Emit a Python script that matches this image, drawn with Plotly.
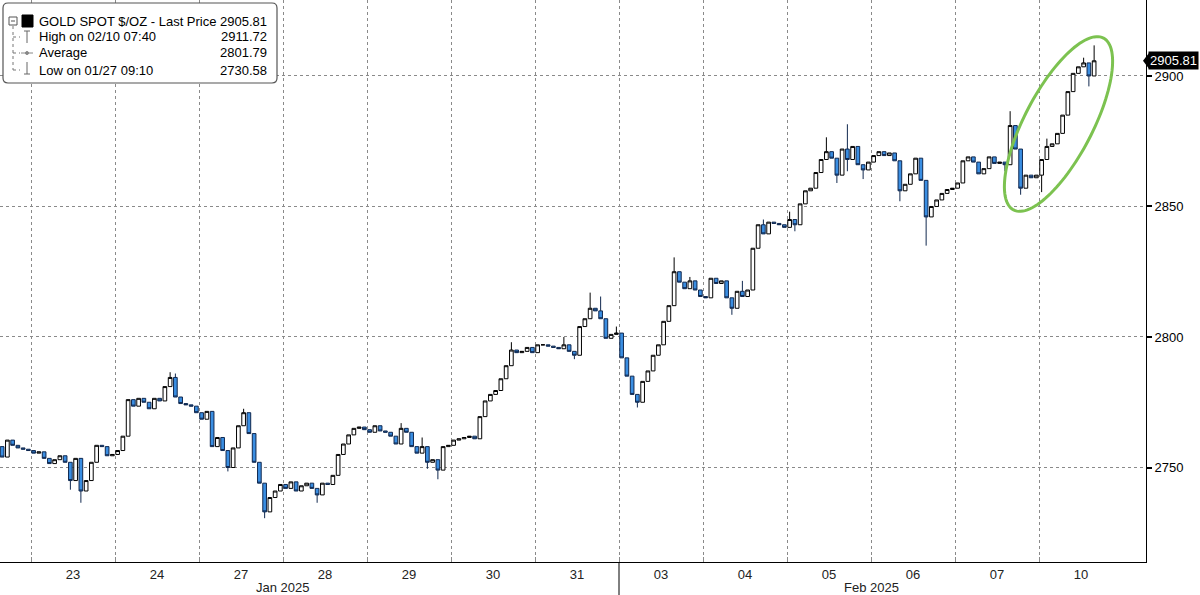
import math
import plotly.graph_objects as go

# ---------------- data ----------------
day_labels = ["23", "24", "27", "28", "29", "30", "31", "03", "04", "05", "06", "07", "10"]
month_labels = ["Jan 2025", "Feb 2025"]
month_label_pos = [3.0, 10.0]          # day-boundary index where the month label sits
month_break_pos = 7.0                  # boundary between 31 Jan and 03 Feb
y_ticks = [2750, 2800, 2850, 2900]

first_open = 2758.0
closes_jan22 = [2754.0, 2760.5, 2758.5, 2757.5, 2757.0, 2756.5]
closes_jan23 = [2755.5, 2756.0, 2753.5, 2751.5, 2753.0, 2754.5, 2752.0, 2745.0,
                2753.5, 2741.0, 2745.0, 2752.0, 2758.5, 2758.0, 2754.5, 2755.0]
closes_jan24 = [2756.5, 2762.0, 2776.0, 2773.5, 2776.5, 2775.0, 2772.5, 2776.5,
                2775.5, 2781.0, 2784.5, 2777.0, 2774.5, 2774.0, 2773.5, 2771.0]
closes_jan27 = [2768.5, 2771.5, 2758.0, 2761.5, 2756.5, 2750.0, 2757.5, 2766.0,
                2771.0, 2763.0, 2752.0, 2744.0, 2733.0, 2738.5, 2741.0, 2743.5]
closes_jan28 = [2742.0, 2744.5, 2741.0, 2743.0, 2744.0, 2742.0, 2739.5, 2744.0,
                2743.5, 2747.0, 2755.0, 2759.0, 2762.5, 2765.0, 2765.5, 2764.5]
closes_jan29 = [2763.5, 2766.0, 2764.0, 2763.5, 2762.0, 2759.0, 2765.0, 2763.5,
                2758.0, 2755.5, 2758.0, 2752.0, 2753.0, 2749.0, 2758.0, 2758.5]
closes_jan30 = [2760.5, 2761.0, 2761.5, 2762.0, 2761.0, 2769.5, 2775.5, 2778.0,
                2779.5, 2784.0, 2789.0, 2795.0, 2794.0, 2794.5, 2796.0, 2794.0]
closes_jan31 = [2797.0, 2797.0, 2796.5, 2796.0, 2795.5, 2797.0, 2794.5, 2793.0,
                2804.0, 2807.0, 2811.0, 2810.0, 2807.0, 2799.5, 2801.0, 2801.5]
closes_feb03 = [2792.0, 2785.0, 2778.0, 2775.0, 2783.0, 2787.0, 2793.0, 2797.0,
                2806.0, 2812.0, 2825.0, 2821.0, 2818.5, 2821.5, 2818.0, 2815.5]
closes_feb04 = [2815.0, 2822.5, 2820.5, 2821.5, 2815.0, 2811.0, 2817.5, 2815.5,
                2818.0, 2834.0, 2843.0, 2839.5, 2844.0, 2843.5, 2843.0, 2842.0]
closes_feb05 = [2845.0, 2843.0, 2851.0, 2856.0, 2857.0, 2863.0, 2868.0, 2871.0,
                2868.5, 2862.0, 2872.0, 2868.0, 2873.0, 2866.0, 2864.0, 2867.0]
closes_feb06 = [2869.5, 2871.0, 2869.5, 2870.5, 2867.5, 2856.0, 2858.5, 2862.5,
                2868.5, 2860.0, 2846.0, 2850.0, 2852.5, 2855.0, 2856.5, 2857.0]
closes_feb07 = [2859.0, 2867.5, 2869.0, 2867.0, 2862.5, 2864.5, 2869.0, 2866.5,
                2867.0, 2866.0, 2881.0, 2872.0, 2857.0, 2862.0, 2861.0, 2862.0]
closes_feb10 = [2868.0, 2873.0, 2874.0, 2878.0, 2885.0, 2894.0, 2901.0, 2903.5,
                2905.0, 2900.0, 2905.81]

# wick extremes: (day, bar) -> value
wick_highs = {("24", 10): 2786.5, ("24", 11): 2786.0, ("27", 8): 2772.5,
              ("29", 6): 2767.0, ("29", 10): 2761.5, ("30", 11): 2798.0,
              ("31", 5): 2800.0, ("31", 10): 2817.0, ("31", 12): 2815.5,
              ("31", 15): 2804.0, ("03", 10): 2830.5, ("03", 13): 2823.0,
              ("04", 7): 2821.5, ("04", 11): 2845.0, ("05", 0): 2848.0,
              ("05", 7): 2876.5, ("05", 11): 2881.5, ("07", 10): 2886.5,
              ("10", 1): 2876.0, ("10", 8): 2907.0, ("10", 10): 2911.72}
wick_lows = {("23", 7): 2741.5, ("23", 9): 2736.5, ("27", 5): 2748.5,
             ("27", 12): 2730.58, ("28", 6): 2736.5, ("29", 11): 2749.5,
             ("29", 13): 2745.5, ("31", 7): 2791.5, ("03", 3): 2773.0,
             ("04", 5): 2808.5, ("05", 1): 2840.5, ("05", 9): 2859.0,
             ("05", 11): 2863.5, ("05", 14): 2860.5, ("06", 5): 2852.0,
             ("06", 10): 2835.0, ("07", 9): 2863.5, ("07", 12): 2854.5,
             ("10", 0): 2855.5, ("10", 9): 2896.0}

legend_title = "GOLD SPOT $/OZ - Last Price"
legend_rows = ["High on 02/10 07:40", "Average", "Low on 01/27 09:10"]
legend_values = ["2905.81", "2911.72", "2801.79", "2730.58"]
last_price = 2905.81

# ---------------- build bars ----------------
BARS_PER_DAY = 16
day_closes = [("22", -1, closes_jan22, BARS_PER_DAY - len(closes_jan22))]
all_days = [closes_jan23, closes_jan24, closes_jan27, closes_jan28, closes_jan29,
            closes_jan30, closes_jan31, closes_feb03, closes_feb04, closes_feb05,
            closes_feb06, closes_feb07, closes_feb10]
for i, (lab, cl) in enumerate(zip(day_labels, all_days)):
    day_closes.append((lab, i, cl, 0))

xs, o, h, l, c = [], [], [], [], []
prev = first_open
for lab, di, cl, offset in day_closes:
    for j, val in enumerate(cl):
        slot = j + offset
        xs.append(di + (slot + 0.5) / BARS_PER_DAY)
        o.append(prev)
        c.append(val)
        h.append(max(prev, val, wick_highs.get((lab, j), -1e9)))
        l.append(min(prev, val, wick_lows.get((lab, j), 1e9)))
        prev = val

# ---------------- figure ----------------
W, H = 1200, 595
ML, MR, MT, MB = 0, 54, 0, 33
PW, PH = W - ML - MR, H - MT - MB
X0, X1 = -31 / 84, (1146 - 31) / 84
Y0, Y1 = 2713.8, 2929.1


def px(xp):
    return (xp - ML) / PW


def py(yp):
    return 1 - (yp - MT) / PH


FONT = "Liberation Sans, Arial, sans-serif"

fig = go.Figure()
fig.add_trace(go.Candlestick(
    x=xs, open=o, high=h, low=l, close=c,
    increasing=dict(line=dict(color="#000000", width=1), fillcolor="#ffffff"),
    decreasing=dict(line=dict(color="#10284f", width=1), fillcolor="#3a8ee2"),
    whiskerwidth=0, hoverinfo="skip", showlegend=False,
))

shapes = []
# month separator below the axis
shapes.append(dict(type="line", xref="x", yref="paper", x0=month_break_pos, x1=month_break_pos,
                   y0=-(H - MT - PH) / PH, y1=0, line=dict(color="#000", width=1)))

# legend box (rounded)
bx0, by0, bx1, by1, r = 3, 3, 277, 83, 5
pts = (f"M {px(bx0 + r)} {py(by0)} L {px(bx1 - r)} {py(by0)} "
       f"Q {px(bx1)} {py(by0)} {px(bx1)} {py(by0 + r)} L {px(bx1)} {py(by1 - r)} "
       f"Q {px(bx1)} {py(by1)} {px(bx1 - r)} {py(by1)} L {px(bx0 + r)} {py(by1)} "
       f"Q {px(bx0)} {py(by1)} {px(bx0)} {py(by1 - r)} L {px(bx0)} {py(by0 + r)} "
       f"Q {px(bx0)} {py(by0)} {px(bx0 + r)} {py(by0)} Z")
shapes.append(dict(type="path", xref="paper", yref="paper", path=pts,
                   fillcolor="#ffffff", line=dict(color="#555555", width=1.2)))

row_y = [21, 37, 53, 70]
# tree lines
shapes.append(dict(type="line", xref="paper", yref="paper", x0=px(13), x1=px(13),
                   y0=py(26), y1=py(70), line=dict(color="#777", width=1, dash="dot")))
for ry in row_y[1:]:
    shapes.append(dict(type="line", xref="paper", yref="paper", x0=px(13), x1=px(20),
                       y0=py(ry), y1=py(ry), line=dict(color="#777", width=1, dash="dot")))
# collapse box
shapes.append(dict(type="rect", xref="paper", yref="paper", x0=px(9), x1=px(17),
                   y0=py(25), y1=py(17), line=dict(color="#555", width=1), fillcolor="#fff"))
shapes.append(dict(type="line", xref="paper", yref="paper", x0=px(11), x1=px(15),
                   y0=py(21), y1=py(21), line=dict(color="#555", width=1)))
# black square
shapes.append(dict(type="rect", xref="paper", yref="paper", x0=px(22), x1=px(33),
                   y0=py(27), y1=py(15), line=dict(color="#000", width=1), fillcolor="#000"))
# high icon
shapes.append(dict(type="line", xref="paper", yref="paper", x0=px(27), x1=px(27),
                   y0=py(31), y1=py(43), line=dict(color="#666", width=1)))
shapes.append(dict(type="line", xref="paper", yref="paper", x0=px(24), x1=px(30),
                   y0=py(31), y1=py(31), line=dict(color="#666", width=1)))
# average icon
shapes.append(dict(type="line", xref="paper", yref="paper", x0=px(21), x1=px(33),
                   y0=py(53), y1=py(53), line=dict(color="#888", width=1)))
shapes.append(dict(type="circle", xref="paper", yref="paper", x0=px(25.5), x1=px(28.5),
                   y0=py(54.5), y1=py(51.5), line=dict(color="#888", width=1), fillcolor="#888"))
# low icon
shapes.append(dict(type="line", xref="paper", yref="paper", x0=px(27), x1=px(27),
                   y0=py(62), y1=py(74), line=dict(color="#666", width=1)))
shapes.append(dict(type="line", xref="paper", yref="paper", x0=px(24), x1=px(30),
                   y0=py(74), y1=py(74), line=dict(color="#666", width=1)))

# green highlight ellipse (decoration)
ecx, ecy, ea, eb, eth = 1058.5, 124.0, 97.0, 34.0, math.radians(-62.4)
epath = []
for k in range(0, 121):
    t = 2 * math.pi * k / 120
    ex = ecx + ea * math.cos(t) * math.cos(eth) - eb * math.sin(t) * math.sin(eth)
    ey = ecy + ea * math.cos(t) * math.sin(eth) + eb * math.sin(t) * math.cos(eth)
    epath.append(("M" if k == 0 else "L") + f" {px(ex):.5f} {py(ey):.5f}")
shapes.append(dict(type="path", xref="paper", yref="paper", path=" ".join(epath) + " Z",
                   line=dict(color="#7cc250", width=3)))

# pointer of last price label
shapes.append(dict(type="path", xref="paper", yref="y",
                   path=f"M {px(1143)} {last_price} L {px(1149)} {last_price + 3.0} "
                        f"L {px(1149)} {last_price - 3.0} Z",
                   fillcolor="#000", line=dict(color="#000", width=0)))

annotations = []
annotations.append(dict(xref="paper", yref="paper", x=px(37), y=py(row_y[0]), xanchor="left",
                        yanchor="middle", text=legend_title, showarrow=False,
                        font=dict(family=FONT, size=13, color="#000")))
for ry, t in zip(row_y[1:], legend_rows):
    annotations.append(dict(xref="paper", yref="paper", x=px(37), y=py(ry), xanchor="left",
                            yanchor="middle", text=t, showarrow=False,
                            font=dict(family=FONT, size=13, color="#000")))
for ry, v in zip(row_y, legend_values):
    annotations.append(dict(xref="paper", yref="paper", x=px(269), y=py(ry), xanchor="right",
                            yanchor="middle", text=v, showarrow=False,
                            font=dict(family=FONT, size=13, color="#000")))
for mx, mt in zip(month_label_pos, month_labels):
    annotations.append(dict(xref="x", yref="paper", x=mx, y=py(587), xanchor="center",
                            yanchor="middle", text=mt, showarrow=False,
                            font=dict(family=FONT, size=13, color="#222")))
annotations.append(dict(xref="paper", yref="y", x=px(1148), y=last_price, xanchor="left",
                        yanchor="middle", text=f"{last_price:.2f}", showarrow=False,
                        bgcolor="#000", borderpad=1,
                        font=dict(family=FONT, size=13, color="#fff")))

fig.update_layout(
    width=W, height=H,
    margin=dict(l=ML, r=MR, t=MT, b=MB),
    paper_bgcolor="#ffffff", plot_bgcolor="#ffffff",
    showlegend=False, boxgap=0.0,
    shapes=shapes, annotations=annotations,
    font=dict(family=FONT, size=13, color="#222"),
    xaxis=dict(
        range=[X0, X1], rangeslider=dict(visible=False),
        tickmode="array", tickvals=[i + 0.5 for i in range(len(day_labels))],
        ticktext=day_labels, ticks="", showgrid=False, zeroline=False,
        showline=True, linecolor="#000", linewidth=1,
        tickfont=dict(family=FONT, size=13, color="#222"),
        minor=dict(tickmode="array", tickvals=list(range(len(day_labels))),
                   showgrid=True, gridcolor="#8a8a8a", gridwidth=1, griddash="dot",
                   ticks="inside", ticklen=5, tickcolor="#8a8a8a"),
    ),
    yaxis=dict(
        range=[Y0, Y1], side="right", tickmode="array", tickvals=y_ticks,
        ticktext=[str(v) for v in y_ticks],
        showgrid=True, gridcolor="#8a8a8a", gridwidth=1, griddash="dot",
        zeroline=False, showline=True, linecolor="#000", linewidth=1,
        ticks="outside", ticklen=5, tickwidth=2, tickcolor="#000",
        tickfont=dict(family=FONT, size=13, color="#000"),
    ),
)

fig.write_html(
    "out.html",
    config={"displayModeBar": False},
    post_script="document.body.style.margin='0px';document.body.style.overflow='hidden';",
)
